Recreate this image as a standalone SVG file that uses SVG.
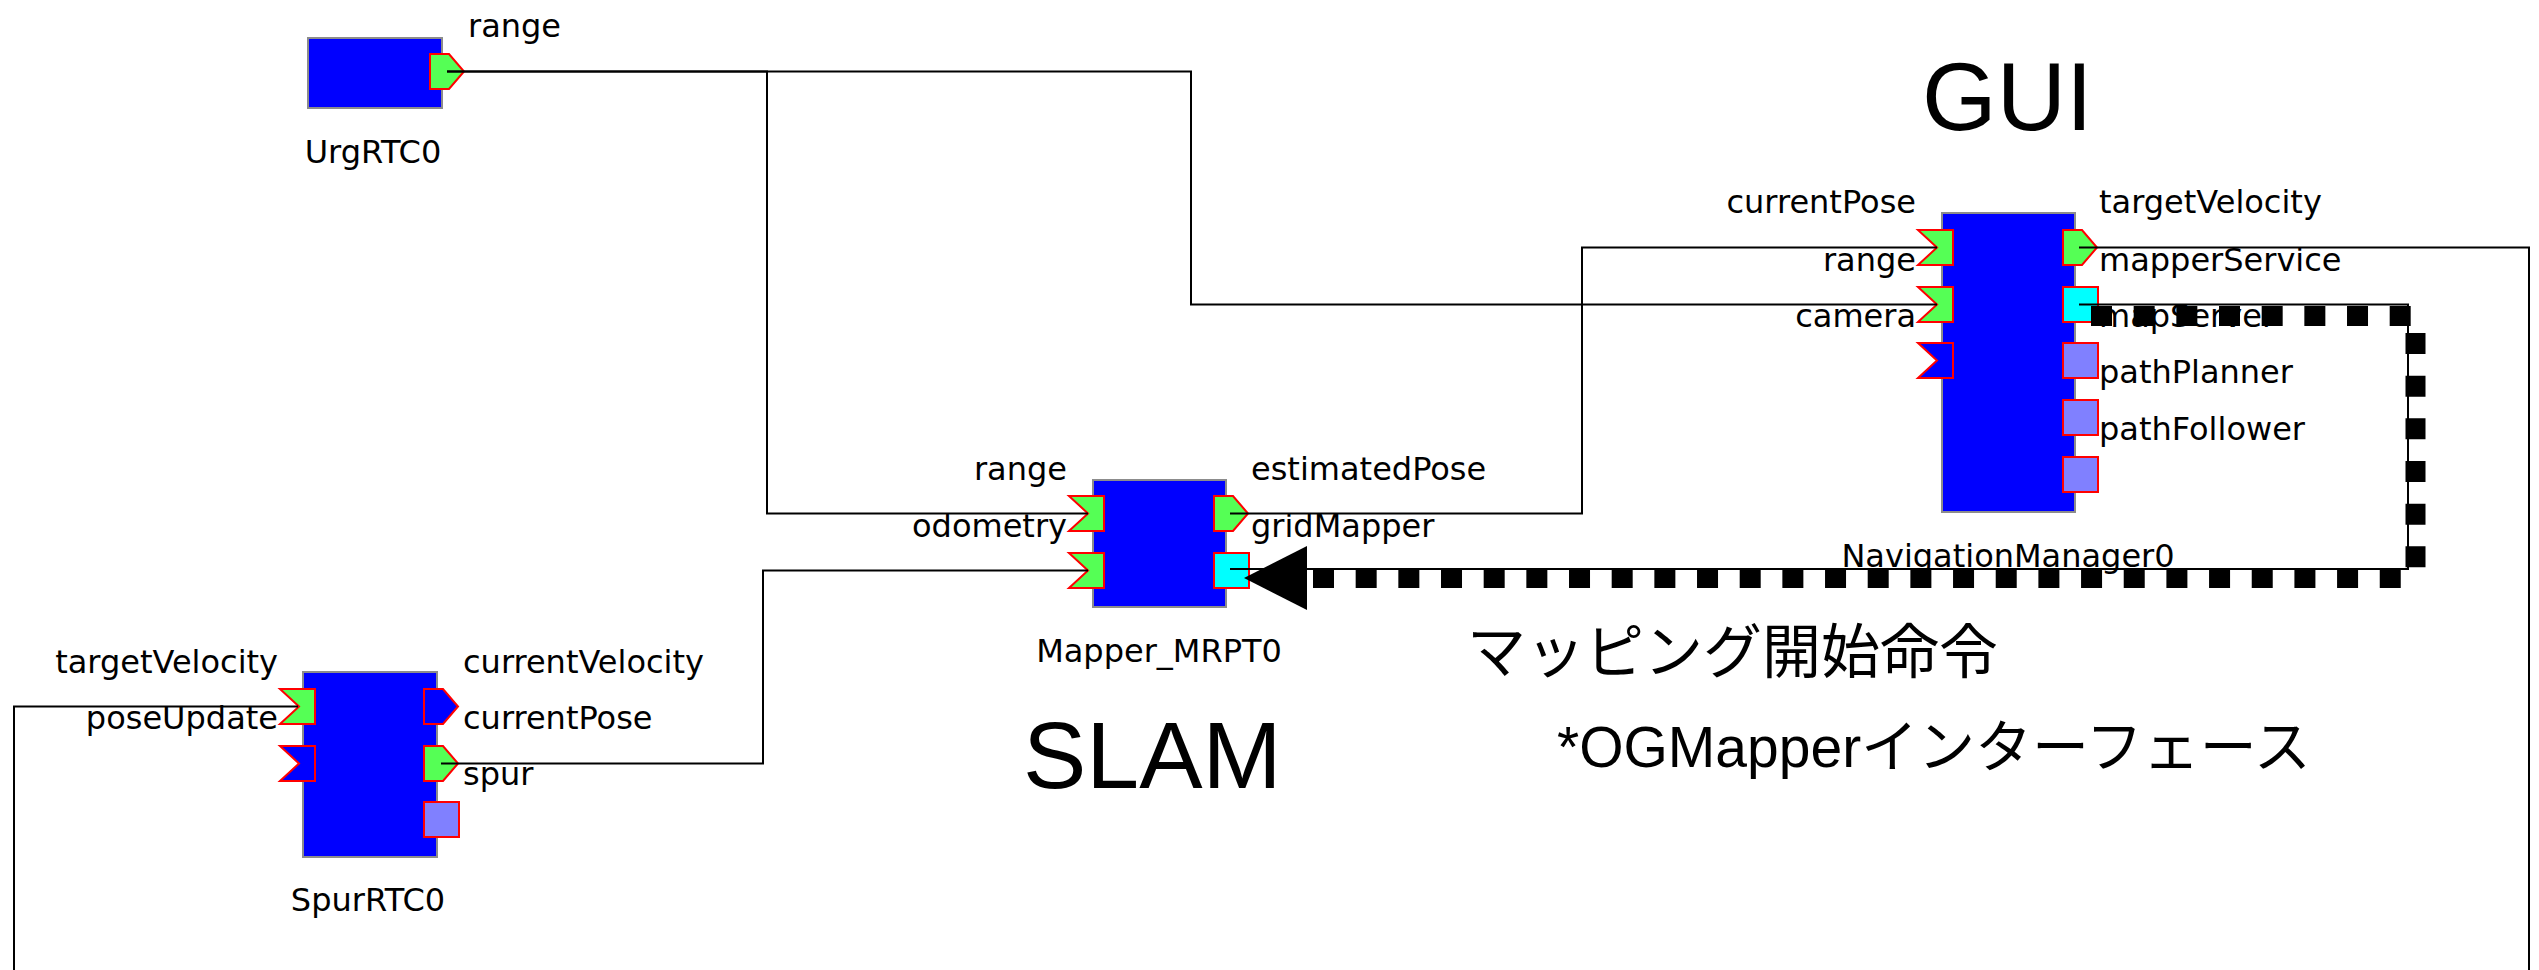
<svg xmlns="http://www.w3.org/2000/svg" xmlns:xlink="http://www.w3.org/1999/xlink" width="2539" height="970" viewBox="0 0 2539 970">
  <defs>
    <style>
      .box { fill: #0000ff; stroke: #8c8c8c; stroke-width: 2; }
      .port { stroke: #ff0000; stroke-width: 2; stroke-linejoin: miter; }
      .on { fill: #55ff55; }
      .off { fill: #0000ff; }
      .svc { fill: #00ffff; }
      .idle { fill: #8080ff; }
      .lbl { font-family: "DejaVu Sans", "Liberation Sans", sans-serif; font-size: 32px; fill: #000; }
      .end { text-anchor: end; }
      .mid { text-anchor: middle; }
      .wire { fill: none; stroke: #000; stroke-width: 2; }
      .note { fill: none; stroke: #000; stroke-width: 20; stroke-dasharray: 21 21.67; }
      .title { font-family: "Liberation Sans", "Noto Sans CJK JP", sans-serif; fill: #000; }
    </style>
    <!-- port glyphs, 35 x 35 -->
    <polygon id="inport" points="0,0 35,0 35,35 0,35 19,17.5"/>
    <polygon id="outport" points="0,0 19,0 34,17.5 19,35 0,35"/>
    <rect id="service" width="35" height="35"/>
  </defs>

  <rect width="2539" height="970" fill="#ffffff"/>

  <!-- UrgRTC0 -->
  <g id="UrgRTC0">
    <rect class="box" x="308" y="38" width="134" height="70"/>
    <use xlink:href="#outport" class="port on" x="430" y="54"/>
    <text class="lbl" x="468" y="37">range</text>
    <text class="lbl mid" x="373" y="163">UrgRTC0</text>
  </g>

  <!-- Mapper_MRPT0 -->
  <g id="Mapper_MRPT0">
    <rect class="box" x="1093" y="480" width="133" height="127"/>
    <use xlink:href="#inport" class="port on" x="1069" y="496"/>
    <use xlink:href="#inport" class="port on" x="1069" y="553"/>
    <use xlink:href="#outport" class="port on" x="1214" y="496"/>
    <use xlink:href="#service" class="port svc" x="1214" y="553"/>
    <text class="lbl end" x="1067" y="480">range</text>
    <text class="lbl end" x="1067" y="537">odometry</text>
    <text class="lbl" x="1251" y="480">estimatedPose</text>
    <text class="lbl" x="1251" y="537">gridMapper</text>
    <text class="lbl mid" x="1159" y="662">Mapper_MRPT0</text>
  </g>

  <!-- NavigationManager0 -->
  <g id="NavigationManager0">
    <rect class="box" x="1942" y="213" width="133" height="299"/>
    <use xlink:href="#inport" class="port on" x="1918" y="230"/>
    <use xlink:href="#inport" class="port on" x="1918" y="287"/>
    <use xlink:href="#inport" class="port off" x="1918" y="343"/>
    <use xlink:href="#outport" class="port on" x="2063" y="230"/>
    <use xlink:href="#service" class="port svc" x="2063" y="287"/>
    <use xlink:href="#service" class="port idle" x="2063" y="343"/>
    <use xlink:href="#service" class="port idle" x="2063" y="400"/>
    <use xlink:href="#service" class="port idle" x="2063" y="457"/>
    <text class="lbl end" x="1916" y="213">currentPose</text>
    <text class="lbl end" x="1916" y="271">range</text>
    <text class="lbl end" x="1916" y="327">camera</text>
    <text class="lbl" x="2099" y="213">targetVelocity</text>
    <text class="lbl" x="2099" y="271">mapperService</text>
    <text class="lbl" x="2099" y="327">mapServer</text>
    <text class="lbl" x="2099" y="383">pathPlanner</text>
    <text class="lbl" x="2099" y="440">pathFollower</text>
    <text class="lbl mid" x="2008" y="567">NavigationManager0</text>
  </g>

  <!-- SpurRTC0 -->
  <g id="SpurRTC0">
    <rect class="box" x="303" y="672" width="134" height="185"/>
    <use xlink:href="#inport" class="port on" x="280" y="689"/>
    <use xlink:href="#inport" class="port off" x="280" y="746"/>
    <use xlink:href="#outport" class="port off" x="424" y="689"/>
    <use xlink:href="#outport" class="port on" x="424" y="746"/>
    <use xlink:href="#service" class="port idle" x="424" y="802"/>
    <text class="lbl end" x="278" y="673">targetVelocity</text>
    <text class="lbl end" x="278" y="729">poseUpdate</text>
    <text class="lbl" x="463" y="673">currentVelocity</text>
    <text class="lbl" x="463" y="729">currentPose</text>
    <text class="lbl" x="463" y="785">spur</text>
    <text class="lbl mid" x="368" y="911">SpurRTC0</text>
  </g>

  <!-- data and service connectors -->
  <g id="connectors">
    <path class="wire" d="M447,71.5 H767 V513.5 H1088"/>
    <path class="wire" d="M447,71.5 H1191 V304.5 H1937"/>
    <path class="wire" d="M1230,513.5 H1582 V247.5 H1937"/>
    <path class="wire" d="M441,763.5 H763 V570.5 H1088"/>
    <path class="wire" d="M2079,247.5 H2529 V1010 H14 V706.5 H298"/>
    <path class="wire" d="M2079,304.5 H2408 V569 H1230"/>
  </g>

  <!-- annotation: mapping start command -->
  <g id="annotation">
    <line class="note" x1="2091" y1="316" x2="2413" y2="316"/>
    <line class="note" x1="2415.5" y1="333" x2="2415.5" y2="568"/>
    <line class="note" x1="1313" y1="578" x2="2403" y2="578"/>
    <polygon points="1244,578 1307,546 1307,610" fill="#000"/>
  </g>

  <!-- captions -->
  <text class="title" x="1922" y="130" font-size="96">GUI</text>
  <text class="title" x="1023" y="788" font-size="95">SLAM</text>
  <text class="title" x="1467" y="673" font-size="59">マッピング開始命令</text>
  <text class="title" x="1557" y="767" font-size="57">*OGMapperインターフェース</text>
</svg>
